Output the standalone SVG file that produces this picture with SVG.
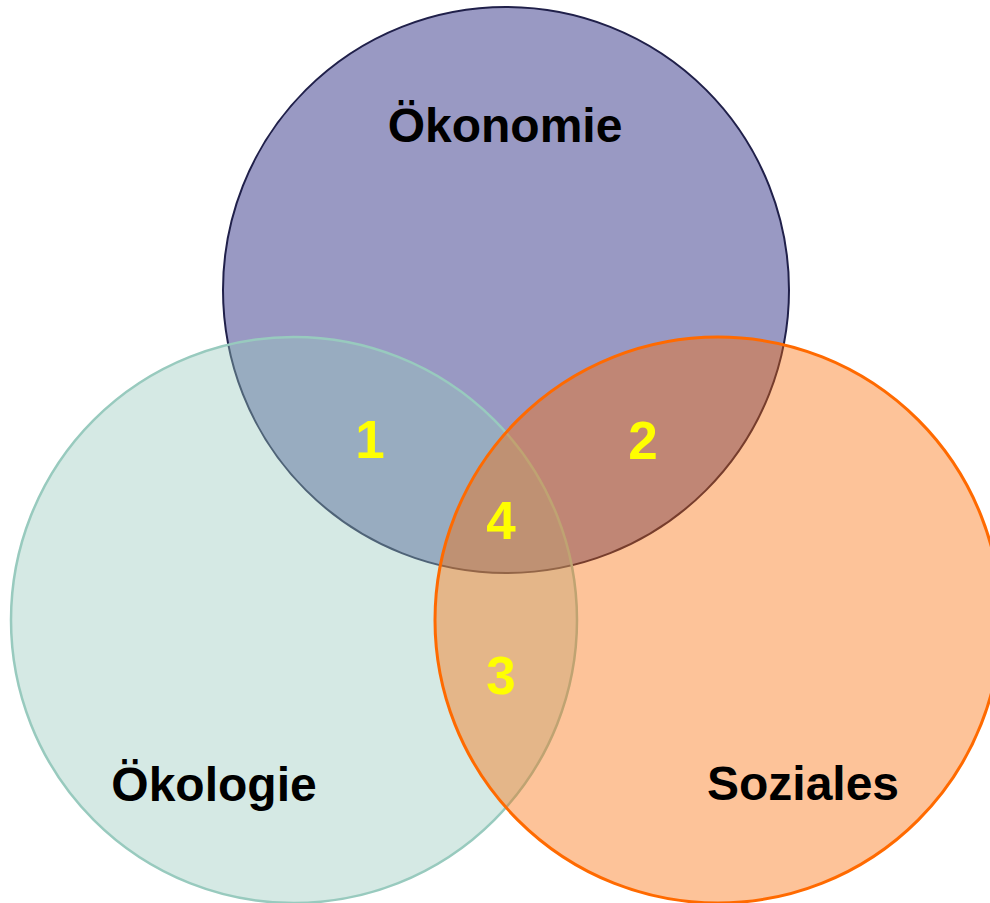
<svg xmlns="http://www.w3.org/2000/svg" width="990" height="903" viewBox="0 0 990 903">
<style>
.lbl{font-family:"Liberation Sans",Arial,sans-serif;font-weight:bold;font-size:48px;fill:#000;text-anchor:middle}
.num{font-family:"Liberation Sans",Arial,sans-serif;font-weight:bold;font-size:53px;fill:#FFFF00;text-anchor:middle}
</style>
<rect width="990" height="903" fill="#FFFFFF"/>
<g id="oekonomie">
<circle cx="506" cy="290" r="283" fill="#9999C3" stroke="#20204A" stroke-width="2"/>
</g>
<g id="oekologie">
<circle cx="294" cy="620" r="283" fill="#97C7BB" fill-opacity="0.4" stroke="#98CABE" stroke-width="2.5"/>
</g>
<g id="soziales">
<circle cx="718" cy="620" r="283" fill="#FA6A00" fill-opacity="0.4" stroke="#FF6A00" stroke-width="3"/>
</g>
<g id="labels">
<text class="lbl" x="505" y="142">Ökonomie</text>
<text class="lbl" x="214" y="801">Ökologie</text>
<text class="lbl" x="803" y="800">Soziales</text>
</g>
<g id="numbers">
<text class="num" x="370" y="458">1</text>
<text class="num" x="643" y="459">2</text>
<text class="num" x="501" y="694">3</text>
<text class="num" x="501" y="539">4</text>
</g>
<g id="connectors"/>
</svg>
